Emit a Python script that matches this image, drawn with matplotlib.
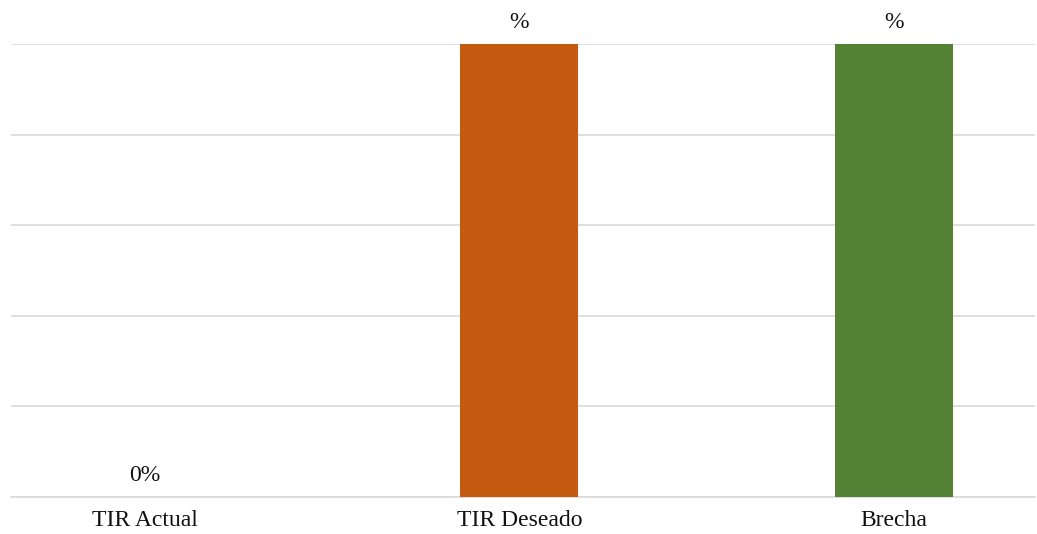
import numpy as np
import matplotlib.pyplot as plt

# Chart data
categories = ['TIR Actual', 'TIR Deseado', 'Brecha']
values = [0.0, 1.0, 1.0]
value_labels = ['0%', '%', '%']
bar_colors = ['#4472C4', '#C55A11', '#548235']

plt.rcParams['font.family'] = ['Liberation Serif', 'DejaVu Serif']

fig = plt.figure(figsize=(10.37, 5.34), dpi=100)
ax = fig.add_axes([11 / 1037, 1 - 497 / 534, 1024 / 1037, 453 / 534])

x = np.arange(len(categories))
ax.bar(x, values, width=0.315, color=bar_colors, zorder=3)

# value labels above bars
for xi, v, lab in zip(x, values, value_labels):
    ax.text(xi, v + 0.024, lab, ha='center', va='bottom', fontsize=17, color='#111111')

ax.set_xlim(-0.357, 2.376)
ax.set_ylim(0, 1.0)
ax.set_yticks(np.arange(0, 1.01, 0.2))
ax.yaxis.grid(True, color='#d9d9d9', linewidth=1.2, zorder=0)
ax.tick_params(axis='y', length=0, labelleft=False)
ax.set_xticks(x)
ax.set_xticklabels(categories, fontsize=17, color='#111111')
ax.tick_params(axis='x', length=0, pad=9)

for side in ['top', 'right', 'left']:
    ax.spines[side].set_visible(False)
ax.spines['bottom'].set_color('#d9d9d9')
ax.spines['bottom'].set_linewidth(1.2)

fig.savefig('out.png', dpi=100, facecolor='white')
